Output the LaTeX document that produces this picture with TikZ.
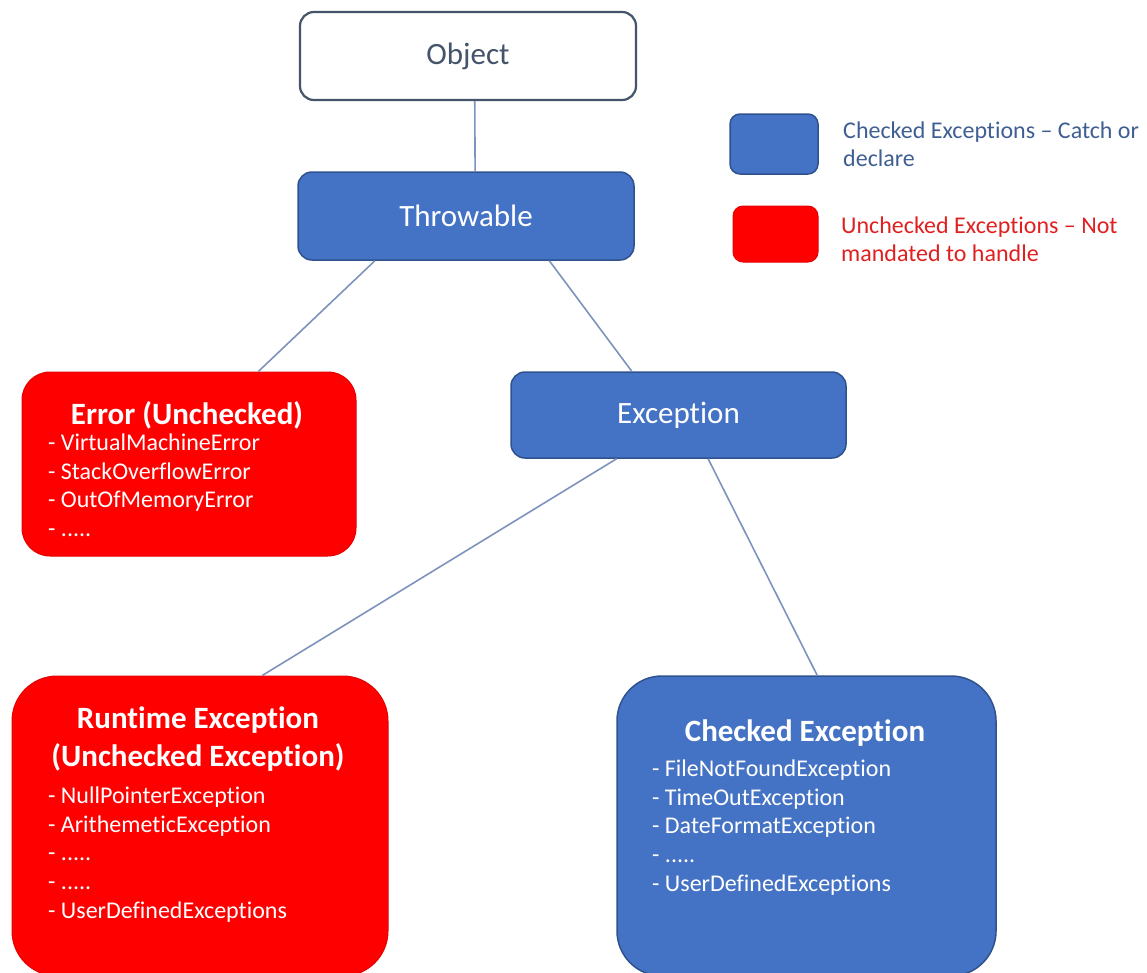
\documentclass[tikz,border=0pt]{standalone}
\usepackage{fontspec}
\setmainfont[Ligatures={NoCommon}]{Carlito}
\usetikzlibrary{calc}
\definecolor{bluefill}{HTML}{4472C4}
\definecolor{blueedge}{HTML}{2F528F}
\definecolor{redfill}{HTML}{FF0000}
\definecolor{rededge}{HTML}{E60000}
\definecolor{objedge}{HTML}{44546A}
\definecolor{objtext}{HTML}{44546A}
\definecolor{linkcol}{HTML}{7D93BD}
\definecolor{legblue}{HTML}{3F5F92}
\definecolor{legred}{HTML}{E02020}
\tikzset{
  box/.style={rectangle, rounded corners=14pt, inner sep=0pt},
  bluebox/.style={box, fill=bluefill, draw=blueedge, line width=1.5pt},
  redbox/.style={box, fill=redfill, draw=rededge, line width=1pt},
  objbox/.style={box, fill=white, draw=objedge, line width=2.2pt},
  bigtxt/.style={font=\fontsize{31}{37}\selectfont},
  titletxt/.style={font=\fontsize{31}{38}\selectfont\bfseries, text=white, inner sep=0pt, align=center},
  listtxt/.style={font=\fontsize{24}{28.8}\selectfont, text=white, inner sep=0pt, align=left, anchor=north west},
  legtxt/.style={font=\fontsize{24}{28}\selectfont, inner sep=0pt, align=left, anchor=north west},
  link/.style={draw=linkcol, line width=1.6pt}
}
\begin{document}
\begin{tikzpicture}[x=1pt,y=-1pt]
\useasboundingbox (0,0) rectangle (1147,972);

% main boxes
\node[objbox, minimum width=336pt, minimum height=88pt, text=objtext, bigtxt] (obj) at (468,56) {Object};
\node[bluebox, minimum width=336pt, minimum height=88pt, text=white, bigtxt] (thr) at (466,216) {Throwable};
\node[bluebox, minimum width=335pt, minimum height=86pt, text=white, bigtxt] (exc) at (678.5,415) {Exception};
\node[redbox, rounded corners=28pt, minimum width=334pt, minimum height=184pt] (err) at (189,464) {};
\node[redbox, rounded corners=45pt, minimum width=376pt, minimum height=300pt] (rt) at (200,826) {};
\node[bluebox, rounded corners=45pt, minimum width=379pt, minimum height=300pt] (chk) at (806.5,826) {};

% box contents
\node[titletxt] (errtitle) at (187,415) {Error (Unchecked)};
\node[listtxt] (errlist) at (48,433.5) {- VirtualMachineError\\- StackOverflowError\\- OutOfMemoryError\\- .....};

\node[titletxt] (rttitle) at (198,739) {Runtime Exception\\(Unchecked Exception)};
\node[listtxt] (rtlist) at (48,786.5) {- NullPointerException\\- ArithemeticException\\- .....\\- .....\\- UserDefinedExceptions};

\node[titletxt] (chktitle) at (805,733) {Checked Exception};
\node[listtxt] (chklist) at (652,759.5) {- FileNotFoundException\\- TimeOutException\\- DateFormatException\\- .....\\- UserDefinedExceptions};

% legend
\node[bluebox, rounded corners=10pt, minimum width=88pt, minimum height=60pt] (legb) at (774,144) {};
\node[redbox, rounded corners=10pt, minimum width=85pt, minimum height=56pt] (legr) at (775.5,234) {};
\node[legtxt, text=legblue] (legbt) at (843,122) {Checked Exceptions – Catch or\\declare};
\node[legtxt, text=legred] (legrt) at (841,217) {Unchecked Exceptions – Not\\mandated to handle};

% connectors
\draw[link] ($(obj.south west)!0.52!(obj.south east)$) -- ($(thr.north west)!0.527!(thr.north east)$);
\draw[link] ($(thr.south west)!0.23!(thr.south east)$) -- ($(err.north west)!0.707!(err.north east)$);
\draw[link] ($(thr.south west)!0.747!(thr.south east)$) -- ($(exc.north west)!0.361!(exc.north east)$);
\draw[link] ($(exc.south west)!0.316!(exc.south east)$) -- ($(rt.north west)!0.665!(rt.north east)$);
\draw[link] ($(exc.south west)!0.588!(exc.south east)$) -- ($(chk.north west)!0.528!(chk.north east)$);
\end{tikzpicture}
\end{document}
